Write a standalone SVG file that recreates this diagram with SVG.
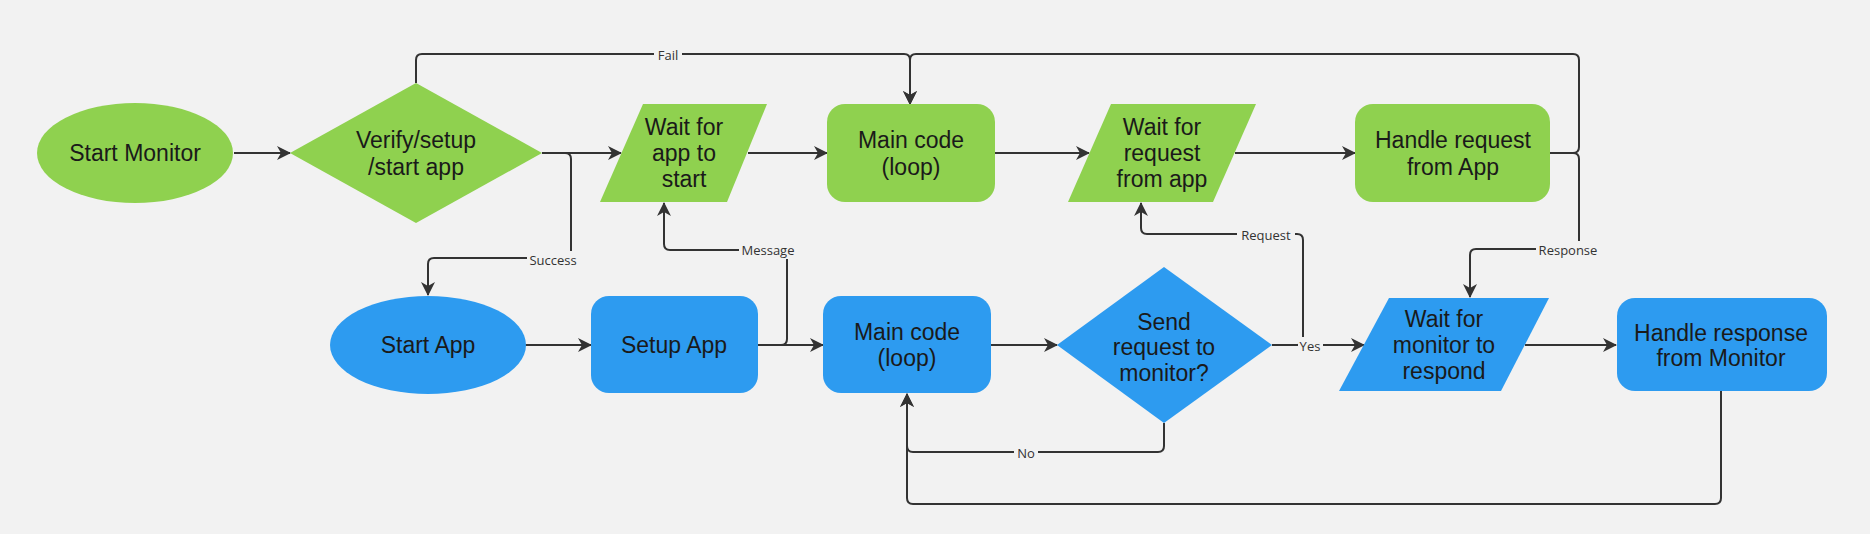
<svg xmlns="http://www.w3.org/2000/svg" width="1870" height="534" viewBox="0 0 1870 534">
  <style>
    .green { fill: #8fd14f; }
    .blue { fill: #2d9bf0; }
    .t { font-family: "Liberation Sans", Arial, sans-serif; font-size: 23px; fill: #1a1a1a; text-anchor: middle; }
    .c { fill: none; stroke: #333333; stroke-width: 2; }
    .a { marker-end: url(#arr); }
    .lbl { font-family: "Open Sans", "DejaVu Sans", sans-serif; font-size: 13px; fill: #333333; text-anchor: middle; }
    .lbg { fill: #f2f2f2; }
  </style>
  <defs>
    <marker id="arr" markerUnits="userSpaceOnUse" markerWidth="14" markerHeight="14" refX="13" refY="7" orient="auto">
      <path d="M0,0 L14,7 L0,14 L4,7 Z" fill="#333333"/>
    </marker>
  </defs>
  <rect x="0" y="0" width="1870" height="534" fill="#f2f2f2"/>

  <g id="connectors">
    <path class="c a" d="M234,153 H290"/>
    <path class="c a" d="M542,153 H621"/>
    <path class="c a" d="M542,153 H565 Q571,153 571,159 V258 H434 Q428,258 428,264 V295"/>
    <path class="c a" d="M748,153 H827"/>
    <path class="c a" d="M995,153 H1089"/>
    <path class="c a" d="M1235,153 H1355"/>
    <path class="c a" d="M416,83 V60 Q416,54 422,54 H904 Q910,54 910,60 V104"/>
    <path class="c a" d="M1550,153 H1573 Q1579,153 1579,147 V60 Q1579,54 1573,54 H916 Q910,54 910,60 V104"/>
    <path class="c a" d="M1550,153 H1573 Q1579,153 1579,159 V249 H1476 Q1470,249 1470,255 V297"/>
    <path class="c a" d="M525,345 H591"/>
    <path class="c a" d="M758,345 H823"/>
    <path class="c a" d="M758,345 H781 Q787,345 787,339 V250 H670 Q664,250 664,244 V203"/>
    <path class="c a" d="M991,345 H1057"/>
    <path class="c a" d="M1272,345 H1364"/>
    <path class="c a" d="M1272,345 H1297 Q1303,345 1303,339 V240 Q1303,234 1297,234 H1147 Q1141,234 1141,228 V203"/>
    <path class="c a" d="M1164,423 V446 Q1164,452 1158,452 H913 Q907,452 907,446 V394"/>
    <path class="c a" d="M1721,391 V498 Q1721,504 1715,504 H913 Q907,504 907,498 V394"/>
    <path class="c a" d="M1525,345 H1616"/>
    <g id="labels">
      <rect class="lbg" x="654" y="46" width="28" height="18"/>
      <text class="lbl" x="668" y="60">Fail</text>
      <rect class="lbg" x="527" y="251" width="54" height="18"/>
      <text class="lbl" x="553" y="265">Success</text>
      <rect class="lbg" x="739" y="241" width="59" height="18"/>
      <text class="lbl" x="768" y="255">Message</text>
      <rect class="lbg" x="1237" y="226" width="58" height="18"/>
      <text class="lbl" x="1266" y="240">Request</text>
      <rect class="lbg" x="1536" y="241" width="65" height="18"/>
      <text class="lbl" x="1568" y="255">Response</text>
      <rect class="lbg" x="1298" y="337" width="25" height="18"/>
      <text class="lbl" x="1310" y="351">Yes</text>
      <rect class="lbg" x="1014" y="444" width="24" height="18"/>
      <text class="lbl" x="1026" y="458">No</text>
    </g>
  </g>

  <g id="start-monitor">
    <ellipse class="green" cx="135" cy="153" rx="98" ry="50"/>
    <text class="t" x="135" y="161">Start Monitor</text>
  </g>
  <g id="verify">
    <polygon class="green" points="290,153 416,83 542,153 416,223"/>
    <text class="t" x="416" y="148">Verify/setup</text>
    <text class="t" x="416" y="175">/start app</text>
  </g>
  <g id="wait-app">
    <polygon class="green" points="643,104 767,104 727,202 600,202"/>
    <text class="t" x="684" y="135">Wait for</text>
    <text class="t" x="684" y="161">app to</text>
    <text class="t" x="684" y="187">start</text>
  </g>
  <g id="main-monitor">
    <rect class="green" x="827" y="104" width="168" height="98" rx="18"/>
    <text class="t" x="911" y="148">Main code</text>
    <text class="t" x="911" y="175">(loop)</text>
  </g>
  <g id="wait-request">
    <polygon class="green" points="1111,104 1256,104 1213,202 1068,202"/>
    <text class="t" x="1162" y="135">Wait for</text>
    <text class="t" x="1162" y="161">request</text>
    <text class="t" x="1162" y="187">from app</text>
  </g>
  <g id="handle-request">
    <rect class="green" x="1355" y="104" width="195" height="98" rx="18"/>
    <text class="t" x="1453" y="148">Handle request</text>
    <text class="t" x="1453" y="175">from App</text>
  </g>

  <g id="start-app">
    <ellipse class="blue" cx="428" cy="345" rx="98" ry="49"/>
    <text class="t" x="428" y="353">Start App</text>
  </g>
  <g id="setup-app">
    <rect class="blue" x="591" y="296" width="167" height="97" rx="18"/>
    <text class="t" x="674" y="353">Setup App</text>
  </g>
  <g id="main-app">
    <rect class="blue" x="823" y="296" width="168" height="97" rx="18"/>
    <text class="t" x="907" y="340">Main code</text>
    <text class="t" x="907" y="366">(loop)</text>
  </g>
  <g id="send-request">
    <polygon class="blue" points="1057,345 1164,267 1272,345 1164,423"/>
    <text class="t" x="1164" y="330">Send</text>
    <text class="t" x="1164" y="355">request to</text>
    <text class="t" x="1164" y="381">monitor?</text>
  </g>
  <g id="wait-monitor">
    <polygon class="blue" points="1389,298 1549,298 1501,391 1339,391"/>
    <text class="t" x="1444" y="327">Wait for</text>
    <text class="t" x="1444" y="353">monitor to</text>
    <text class="t" x="1444" y="379">respond</text>
  </g>
  <g id="handle-response">
    <rect class="blue" x="1617" y="298" width="210" height="93" rx="18"/>
    <text class="t" x="1721" y="341">Handle response</text>
    <text class="t" x="1721" y="366">from Monitor</text>
  </g>
</svg>
